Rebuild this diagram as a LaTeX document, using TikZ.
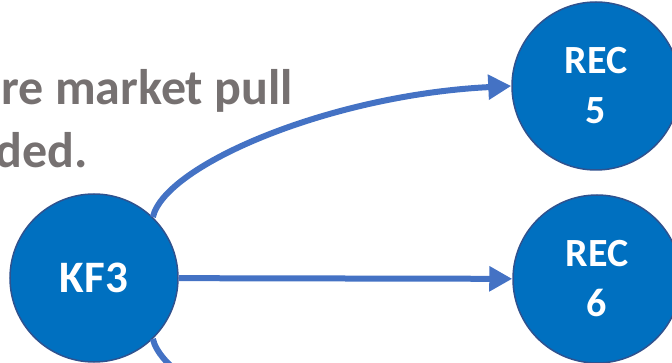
\documentclass[tikz,border=0pt]{standalone}
\usepackage{fontspec}
\setmainfont{Carlito}
\usepackage{tikz}
\usetikzlibrary{arrows.meta}
\definecolor{nodeblue}{RGB}{0,112,192}
\definecolor{rimblue}{RGB}{47,82,143}
\definecolor{linkblue}{RGB}{68,114,196}
\definecolor{txtgray}{RGB}{118,113,113}

\begin{document}
\begin{tikzpicture}[x=1pt, y=-1pt,
        factor/.style={circle, draw=rimblue, line width=1.5pt, fill=nodeblue, text=white,
            minimum size=168pt, inner sep=0pt, align=center, font=\fontsize{40}{50}\selectfont\bfseries},
        link/.style={linkblue, line width=6pt, -{Triangle[length=23pt, width=24pt]}},
        caption/.style={text=txtgray, inner sep=0pt, font=\fontsize{50}{63}\selectfont\bfseries}]
                \useasboundingbox (0,0) rectangle (672,363);
                \clip (0,0) rectangle (672,363);
                \node[caption, anchor=base east] (pull) at (293,105) {re market pull};
                \node[caption, anchor=base east] (ded) at (88,168) {ded.};
                \node[factor, font=\fontsize{45}{50}\selectfont\bfseries] (kf3) at (94,278) {KF3};
                \node[factor] (rec5) at (596,86) {REC\\5};
                \node[factor] (rec6) at (597,279) {REC\\6};
                \coordinate (below) at (512,470);
                \draw[link] (kf3.46) .. controls (165,165) and (330,95) .. (rec5.west);
                \draw[link] (kf3) -- (rec6);
                \draw[link] (kf3.-46) .. controls (165,391) and (330,461) .. (below);
            \end{tikzpicture}
\end{document}
